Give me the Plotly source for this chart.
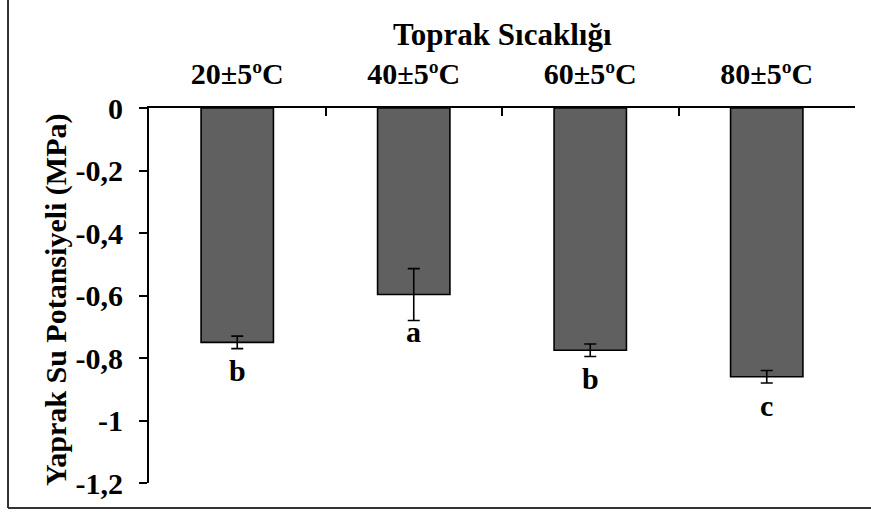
import plotly.graph_objects as go

# Leaf water potential under four soil temperature treatments
categories = ["20±5ºC", "40±5ºC", "60±5ºC", "80±5ºC"]
potential_mpa = [-0.75, -0.597, -0.775, -0.86]
std_error = [0.02, 0.083, 0.02, 0.02]
group_letters = ["b", "a", "b", "c"]

y_tickvals = [0, -0.2, -0.4, -0.6, -0.8, -1.0, -1.2]
y_ticktext = ["0", "-0,2", "-0,4", "-0,6", "-0,8", "-1", "-1,2"]

FONT = "Liberation Serif"
FS = 30

fig = go.Figure()
fig.add_trace(go.Bar(
    x=categories,
    y=potential_mpa,
    width=0.41,
    marker=dict(color="#606060", line=dict(color="#000000", width=1.6)),
    error_y=dict(type="data", array=std_error, visible=True,
                 color="#000000", thickness=1.6, width=6),
    showlegend=False,
))

# significance letters below each error bar
for cat, val, err, letter in zip(categories, potential_mpa, std_error, group_letters):
    shift = -11 if letter == "a" else -22
    fig.add_annotation(x=cat, y=val - err, text=f"<b>{letter}</b>",
                       showarrow=False, yanchor="middle", yshift=shift,
                       font=dict(family=FONT, size=FS, color="#000000"))

# axis titles
fig.add_annotation(xref="paper", yref="paper", x=0.5, y=1.195,
                   text="<b>Toprak Sıcaklığı</b>", showarrow=False,
                   xanchor="center", yanchor="middle",
                   font=dict(family=FONT, size=31, color="#000000"))
fig.add_annotation(xref="paper", yref="paper", x=-0.1317, y=0.488,
                   text="<b>Yaprak Su Potansiyeli (MPa)</b>", showarrow=False,
                   textangle=-90, xanchor="center", yanchor="middle",
                   font=dict(family=FONT, size=FS, color="#000000"))

# chart frame (left and bottom edges fall inside the canvas)
fig.add_shape(type="line", xref="paper", yref="paper",
              x0=-0.1997, x1=-0.1997, y0=-0.0667, y1=1.4,
              line=dict(color="#333333", width=2))
fig.add_shape(type="line", xref="paper", yref="paper",
              x0=-0.1997, x1=1.1, y0=-0.0667, y1=-0.0667,
              line=dict(color="#333333", width=2))

fig.update_xaxes(
    side="top",
    type="category",
    tickvals=categories,
    ticktext=[f"<b>{c}</b>" for c in categories],
    showline=True, linecolor="#000000", linewidth=2,
    ticks="inside", tickson="boundaries", ticklen=8, tickwidth=2,
    tickcolor="#000000",
    tickfont=dict(family=FONT, size=FS, color="#000000"),
    ticklabelstandoff=10,
    showgrid=False, zeroline=False,
)
fig.update_yaxes(
    range=[-1.2, 0],
    tickvals=y_tickvals, ticktext=[f"<b>{t}</b>" for t in y_ticktext],
    showline=True, linecolor="#000000", linewidth=2,
    ticks="outside", ticklen=8, tickwidth=2, tickcolor="#000000",
    tickfont=dict(family=FONT, size=FS, color="#000000"),
    ticklabelstandoff=10,
    showgrid=False, zeroline=False,
)

fig.update_layout(
    width=871, height=513,
    margin=dict(l=149, r=16, t=108, b=30),
    font=dict(family=FONT, color="#000000"),
    plot_bgcolor="#ffffff", paper_bgcolor="#ffffff",
    bargap=0.59,
)

fig.write_html("out.html")
